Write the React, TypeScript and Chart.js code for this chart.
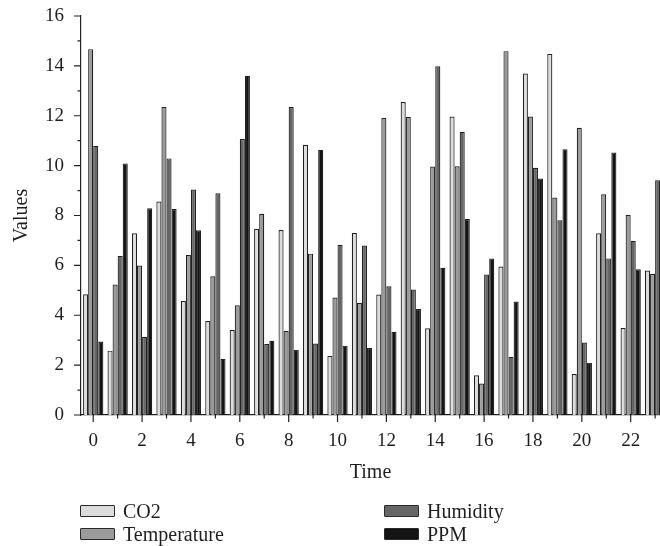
import React, { useEffect, useRef } from "react";
import { Chart, registerables } from "chart.js";

Chart.register(...registerables);

const hours = [0, 1, 2, 3, 4, 5, 6, 7, 8, 9, 10, 11, 12, 13, 14, 15, 16, 17, 18, 19, 20, 21, 22, 23];
const xLabelHours = [0, 2, 4, 6, 8, 10, 12, 14, 16, 18, 20, 22];
const yMinorTicks = [0, 1, 2, 3, 4, 5, 6, 7, 8, 9, 10, 11, 12, 13, 14, 15, 16];

const co2 = [4.84, 2.58, 7.29, 8.56, 4.57, 3.77, 3.41, 7.47, 7.42, 10.84, 2.37, 7.3, 4.83, 12.55, 3.48, 11.97, 1.59, 5.95, 13.69, 14.48, 1.64, 7.29, 3.49, 5.79];
const temperature = [14.67, 5.23, 5.99, 12.35, 6.42, 5.56, 4.4, 8.07, 3.38, 6.47, 4.71, 4.5, 11.91, 11.95, 9.96, 9.97, 1.26, 14.59, 11.97, 8.72, 11.52, 8.85, 8.02, 5.66];
const humidity = [10.8, 6.38, 3.14, 10.29, 9.04, 8.89, 11.07, 2.85, 12.35, 2.87, 6.83, 6.8, 5.16, 5.03, 13.98, 11.36, 5.63, 2.33, 9.91, 7.81, 2.91, 6.28, 6.99, 9.41];
const ppm = [2.95, 10.09, 8.29, 8.26, 7.41, 2.25, 13.6, 2.98, 2.62, 10.63, 2.78, 2.69, 3.34, 4.25, 5.9, 7.86, 6.28, 4.55, 9.48, 10.66, 2.1, 10.53, 5.84, 4.0];

const seriesNames = ["CO2", "Temperature", "Humidity", "PPM"];
const seriesColors = ["#dcdcdc", "#9b9b9b", "#666666", "#141414"];
const seriesValues = [co2, temperature, humidity, ppm];

const FONT = "'Liberation Serif', 'Times New Roman', serif";
const TEXT = "#1e1e1e";
const AXIS = "#222222";

const tickPlugin = {
  id: "customTicks",
  afterDraw(chart: any) {
    const { ctx, chartArea } = chart;
    const x = chart.scales.x;
    const y = chart.scales.y;
    ctx.save();
    ctx.strokeStyle = AXIS;
    ctx.lineWidth = 1.2;
    ctx.beginPath();
    for (const v of yMinorTicks) {
      const py = y.getPixelForValue(v);
      const len = v % 2 === 0 ? 7 : 3.5;
      ctx.moveTo(chartArea.left - len, py);
      ctx.lineTo(chartArea.left, py);
    }
    for (const v of hours) {
      const px = x.getPixelForValue(v);
      if (px > chartArea.right) continue;
      const len = v % 2 === 0 ? 7 : 3.5;
      ctx.moveTo(px, chartArea.bottom);
      ctx.lineTo(px, chartArea.bottom + len);
    }
    ctx.stroke();
    ctx.restore();
  },
};

export default function App() {
  const ref = useRef<HTMLCanvasElement | null>(null);

  useEffect(() => {
    if (!ref.current) return;
    const chart = new Chart(ref.current, {
      type: "bar",
      data: {
        datasets: seriesNames.map((name, i) => ({
          label: name,
          data: hours.map((h, j) => ({ x: h, y: seriesValues[i][j] })),
          backgroundColor: seriesColors[i],
          borderColor: AXIS,
          borderWidth: 1.2,
          categoryPercentage: 0.83,
          barPercentage: 1.0,
          clip: 0,
        })),
      },
      options: {
        responsive: false,
        animation: false,
        events: [],
        layout: { padding: { top: 8, left: 0, right: 0, bottom: 0 } },
        plugins: {
          legend: { display: false },
          tooltip: { enabled: false },
        },
        scales: {
          x: {
            type: "linear",
            min: -0.5,
            max: 23.2,
            offset: false,
            grid: { display: false, drawTicks: true, tickLength: 8, offset: false },
            border: { display: true, color: AXIS, width: 1.2 },
            afterBuildTicks: (scale: any) => {
              scale.ticks = xLabelHours.map((v) => ({ value: v }));
            },
            afterFit: (scale: any) => {
              scale.height = 70;
              scale.paddingLeft = 0;
              scale.paddingRight = 0;
            },
            ticks: {
              autoSkip: false,
              maxRotation: 0,
              padding: 7,
              color: TEXT,
              font: { family: FONT, size: 19 },
              callback: (v: any) => String(v),
            },
            title: {
              display: true,
              text: "Time",
              color: TEXT,
              font: { family: FONT, size: 20 },
              padding: { top: 0, bottom: 0 },
            },
          },
          y: {
            type: "linear",
            min: 0,
            max: 16,
            grid: { display: false, drawTicks: true, tickLength: 8 },
            border: { display: true, color: AXIS, width: 1.2 },
            afterFit: (scale: any) => {
              scale.width = 73;
              scale.paddingTop = 0;
              scale.paddingBottom = 0;
            },
            ticks: {
              stepSize: 2,
              padding: 9,
              color: TEXT,
              font: { family: FONT, size: 19 },
            },
            title: {
              display: true,
              text: "Values",
              color: TEXT,
              font: { family: FONT, size: 20 },
              padding: { top: 2, bottom: 0 },
            },
          },
        },
      },
      plugins: [tickPlugin],
    } as any);
    return () => chart.destroy();
  }, []);

  const legendPos = [
    { left: 72, top: 496 },
    { left: 72, top: 519 },
    { left: 376, top: 496 },
    { left: 376, top: 519 },
  ];

  return (
    <div style={{ position: "fixed", left: 8, top: 8, width: 652, height: 538, overflow: "hidden" }}>
      <canvas ref={ref} width={652} height={477} style={{ display: "block", width: 652, height: 477 }} />
      {seriesNames.map((name, i) => (
        <div
          key={name}
          style={{
            position: "absolute",
            left: legendPos[i].left,
            top: legendPos[i].top,
            height: 14,
            display: "flex",
            alignItems: "center",
            whiteSpace: "nowrap",
          }}
        >
          <span
            style={{
              display: "inline-block",
              width: 33,
              height: 10,
              background: seriesColors[i],
              border: "1.5px solid #2a2a2a",
              borderRadius: 1,
            }}
          />
          <span style={{ marginLeft: 8, fontFamily: FONT, fontSize: 20, color: TEXT, lineHeight: "14px" }}>
            {name}
          </span>
        </div>
      ))}
    </div>
  );
}
